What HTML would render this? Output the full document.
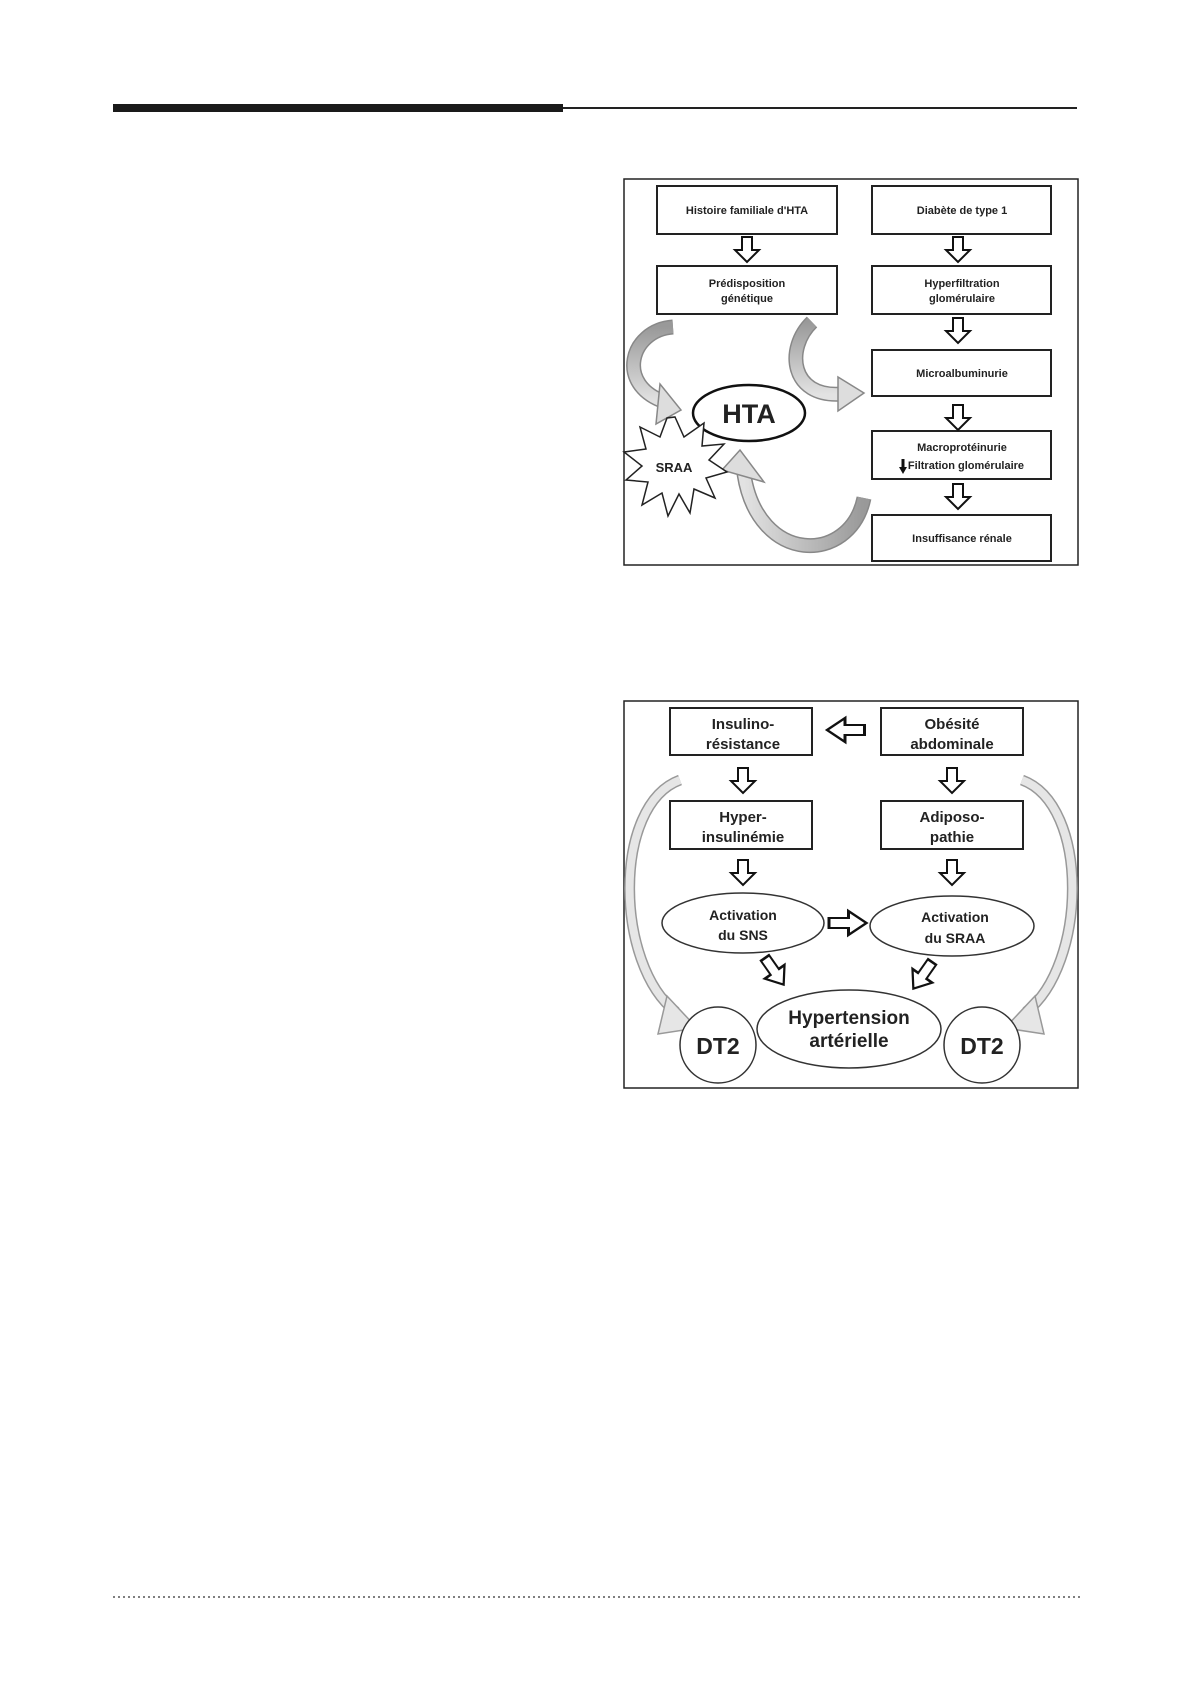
<!DOCTYPE html>
<html><head><meta charset="utf-8"><style>
html,body{margin:0;padding:0;background:#fff}
svg{display:block}
text{font-family:"Liberation Sans",sans-serif;font-weight:bold;fill:#222;text-anchor:middle}
</style></head><body>
<svg width="1191" height="1684" viewBox="0 0 1191 1684" xmlns="http://www.w3.org/2000/svg">
<defs>
<polygon id="da" points="-5,0 5,0 5,13 12,13 0,25 -12,13 -5,13" fill="#fff" stroke="#111" stroke-width="2"/>
<linearGradient id="g1" x1="0" y1="0" x2="0" y2="1"><stop offset="0" stop-color="#999"/><stop offset="1" stop-color="#e2e2e2"/></linearGradient>
<linearGradient id="g2" x1="1" y1="0" x2="0" y2="0"><stop offset="0" stop-color="#999"/><stop offset="1" stop-color="#e2e2e2"/></linearGradient>
</defs>
<!-- header -->
<rect x="113" y="104" width="450" height="8" fill="#1a1a1a"/>
<line x1="563" y1="108" x2="1077" y2="108" stroke="#222" stroke-width="2"/>
<line x1="113" y1="1597" x2="1080" y2="1597" stroke="#555" stroke-width="1.5" stroke-dasharray="2,3"/>

<!-- Diagram 1 -->
<rect x="624" y="179" width="454" height="386" fill="#fff" stroke="#222" stroke-width="1.5"/>
<g fill="#fff" stroke="#222" stroke-width="2">
<rect x="657" y="186" width="180" height="48"/>
<rect x="872" y="186" width="179" height="48"/>
<rect x="657" y="266" width="180" height="48"/>
<rect x="872" y="266" width="179" height="48"/>
<rect x="872" y="350" width="179" height="46"/>
<rect x="872" y="431" width="179" height="48"/>
<rect x="872" y="515" width="179" height="46"/>
</g>
<g font-size="11">
<text x="747" y="214">Histoire familiale d'HTA</text>
<text x="962" y="214">Diabète de type 1</text>
<text x="747" y="287">Prédisposition</text>
<text x="747" y="302">génétique</text>
<text x="962" y="287">Hyperfiltration</text>
<text x="962" y="302">glomérulaire</text>
<text x="962" y="377">Microalbuminurie</text>
<text x="962" y="451">Macroprotéinurie</text>
<text x="966" y="469">Filtration glomérulaire</text>
<text x="962" y="542">Insuffisance rénale</text>
</g>
<path d="M903,459 v10" stroke="#111" stroke-width="3"/><polygon points="899,467 907,467 903,474" fill="#111"/>
<use href="#da" x="747" y="237"/><use href="#da" x="958" y="237"/>
<use href="#da" x="958" y="318"/><use href="#da" x="958" y="405"/><use href="#da" x="958" y="484"/>
<!-- curved gray arrows -->
<g fill="none" stroke-linecap="butt">
<path d="M673,327 C630,330 615,385 665,402" stroke="#888" stroke-width="15"/>
<path d="M673,327 C630,330 615,385 665,402" stroke="url(#g1)" stroke-width="12"/>
<path d="M812,322 C785,348 790,398 842,394" stroke="#888" stroke-width="15"/>
<path d="M812,322 C785,348 790,398 842,394" stroke="url(#g1)" stroke-width="12"/>
<path d="M864,498 C850,565 758,565 744,474" stroke="#888" stroke-width="15"/>
<path d="M864,498 C850,565 758,565 744,474" stroke="url(#g2)" stroke-width="12"/>
</g>
<polygon points="660,384 681,410 656,424" fill="#ddd" stroke="#888" stroke-width="1.5"/>
<polygon points="838,377 864,393 838,411" fill="#ddd" stroke="#888" stroke-width="1.5"/>
<polygon points="722,470 740,450 764,482" fill="#ddd" stroke="#888" stroke-width="1.5"/>
<ellipse cx="749" cy="413" rx="56" ry="28" fill="#fff" stroke="#111" stroke-width="2.5"/>
<text x="749" y="423" font-size="27" fill="#111">HTA</text>
<polygon fill="#fff" stroke="#222" stroke-width="1.5" points="675,417 684,437 704,423 702,446 724,444 709,460 727,472 706,478 715,498 694,489 690,513 679,494 668,516 662,493 642,505 648,482 626,480 642,466 624,452 646,449 640,427 660,437 667,418"/>
<text x="674" y="472" font-size="13" fill="#333">SRAA</text>

<!-- Diagram 2 -->
<rect x="624" y="701" width="454" height="387" fill="#fff" stroke="#222" stroke-width="1.5"/>
<g fill="none">
<path d="M680,780 C612,805 615,965 676,1012" stroke="#999" stroke-width="11"/>
<path d="M680,780 C612,805 615,965 676,1012" stroke="#e6e6e6" stroke-width="8"/>
<path d="M1022,780 C1090,805 1087,965 1026,1012" stroke="#999" stroke-width="11"/>
<path d="M1022,780 C1090,805 1087,965 1026,1012" stroke="#e6e6e6" stroke-width="8"/>
</g>
<polygon points="667,996 697,1028 658,1034" fill="#e6e6e6" stroke="#999" stroke-width="1.5"/>
<polygon points="1035,996 1005,1028 1044,1034" fill="#e6e6e6" stroke="#999" stroke-width="1.5"/>
<g fill="#fff" stroke="#222" stroke-width="2">
<rect x="670" y="708" width="142" height="47"/>
<rect x="881" y="708" width="142" height="47"/>
<rect x="670" y="801" width="142" height="48"/>
<rect x="881" y="801" width="142" height="48"/>
</g>
<g font-size="15">
<text x="743" y="729">Insulino-</text><text x="743" y="749">résistance</text>
<text x="952" y="729">Obésité</text><text x="952" y="749">abdominale</text>
<text x="743" y="822">Hyper-</text><text x="743" y="842">insulinémie</text>
<text x="952" y="822">Adiposo-</text><text x="952" y="842">pathie</text>
</g>
<g transform="translate(827,730) rotate(90)"><use href="#da" transform="scale(1,1.5)" y="-25"/></g>
<use href="#da" x="743" y="768"/><use href="#da" x="952" y="768"/>
<use href="#da" x="743" y="860"/><use href="#da" x="952" y="860"/>
<g fill="#fff" stroke="#333" stroke-width="1.5">
<ellipse cx="743" cy="923" rx="81" ry="30"/>
<ellipse cx="952" cy="926" rx="82" ry="30"/>
</g>
<text x="743" y="920" font-size="14">Activation</text><text x="743" y="940" font-size="14">du SNS</text>
<text x="955" y="922" font-size="14">Activation</text><text x="955" y="943" font-size="14">du SRAA</text>
<g transform="translate(829,923) rotate(-90)"><use href="#da" transform="scale(1,1.5)"/></g>
<g transform="translate(765,958) rotate(-35)"><use href="#da" transform="scale(1,1.3)"/></g>
<g transform="translate(932,962) rotate(35)"><use href="#da" transform="scale(1,1.3)"/></g>
<g fill="#fff" stroke="#333" stroke-width="1.5">
<ellipse cx="849" cy="1029" rx="92" ry="39"/>
<circle cx="718" cy="1045" r="38"/>
<circle cx="982" cy="1045" r="38"/>
</g>
<text x="849" y="1024" font-size="19">Hypertension</text>
<text x="849" y="1047" font-size="19">artérielle</text>
<text x="718" y="1054" font-size="23" fill="#111">DT2</text>
<text x="982" y="1054" font-size="23" fill="#111">DT2</text>
</svg>
</body></html>
